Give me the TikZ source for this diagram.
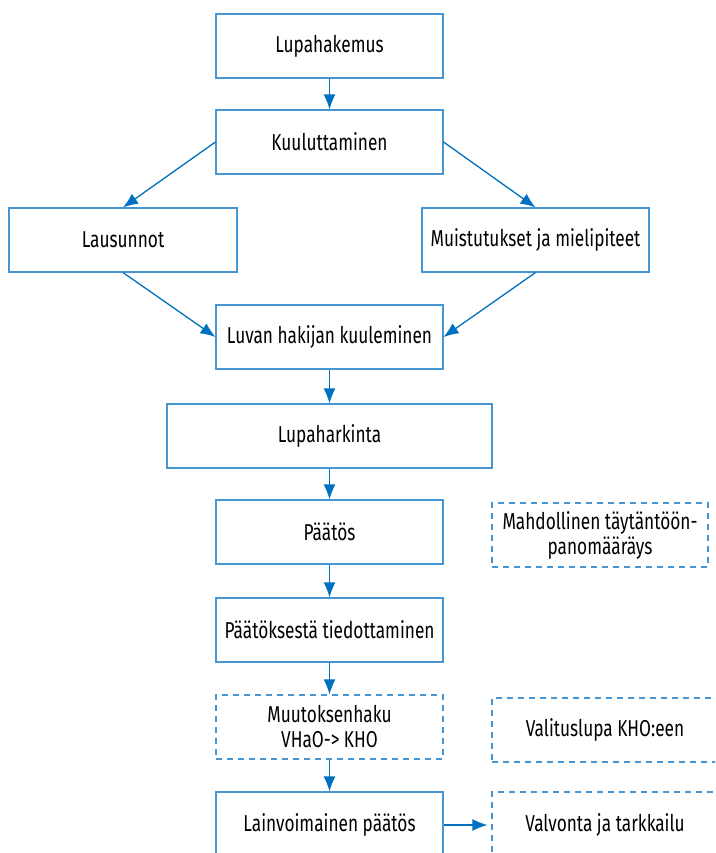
\documentclass[tikz,border=0pt]{standalone}
\usepackage{fontspec}
\setmainfont[FakeStretch=0.75]{Fira Sans}
\usetikzlibrary{arrows.meta}
\definecolor{boxblue}{RGB}{70,150,212}
\definecolor{arrblue}{RGB}{0,112,192}
\tikzset{
  stepbox/.style={draw=boxblue, line width=1.1pt, fill=white, inner sep=0pt, align=center, font=\fontsize{23}{25}\selectfont},
  dashbox/.style={stepbox, dash pattern=on 6pt off 5pt},
  conn/.style={draw=arrblue, line width=1.3pt, -{Latex[length=15pt,width=12pt]}}
}
\begin{document}
\begin{tikzpicture}[x=1pt,y=-1pt]
\useasboundingbox (0,0) rectangle (715,853);
\clip (0,0) rectangle (715,853);
\node[stepbox, minimum width=227pt, minimum height=64pt] (a) at (329.5,46) {Lupahakemus};
\node[stepbox, minimum width=227pt, minimum height=64pt] (b) at (329.5,142) {Kuuluttaminen};
\node[stepbox, minimum width=228pt, minimum height=64pt] (c) at (123,240) {Lausunnot};
\node[stepbox, minimum width=227pt, minimum height=64pt] (d) at (535.5,240) {Muistutukset ja mielipiteet};
\node[stepbox, minimum width=227pt, minimum height=64pt] (e) at (329.5,337) {Luvan hakijan kuuleminen};
\node[stepbox, minimum width=325pt, minimum height=64pt] (f) at (329.5,436) {Lupaharkinta};
\node[stepbox, minimum width=227pt, minimum height=64pt] (g) at (329.5,532) {Päätös};
\node[dashbox, minimum width=216pt, minimum height=64pt] (h) at (600,535) {Mahdollinen täytäntöön-\\panomääräys};
\node[stepbox, minimum width=227pt, minimum height=64pt] (i) at (329.5,630) {Päätöksestä tiedottaminen};
\node[dashbox, minimum width=227pt, minimum height=64pt] (j) at (329.5,727) {Muutoksenhaku\\VHaO-> KHO};
\node[dashbox, minimum width=226pt, minimum height=64pt] (k) at (605,730) {Valituslupa KHO:een};
\node[stepbox, minimum width=227pt, minimum height=66pt] (l) at (329.5,825) {Lainvoimainen päätös};
\node[dashbox, minimum width=226pt, minimum height=66pt] (m) at (605,825) {Valvonta ja tarkkailu};
\draw[conn] (a) -- (b);
\draw[conn] (b.west) -- (c.north);
\draw[conn] (b.east) -- (d.north);
\draw[conn] (c.south) -- (e.west);
\draw[conn] (d.south) -- (e.east);
\draw[conn] (e) -- (f);
\draw[conn] (f) -- (g);
\draw[conn] (g) -- (i);
\draw[conn] (i) -- (j);
\draw[conn] (j) -- (l);
\draw[conn] (l.east) -- ([xshift=-4pt]m.west);
\end{tikzpicture}
\end{document}
